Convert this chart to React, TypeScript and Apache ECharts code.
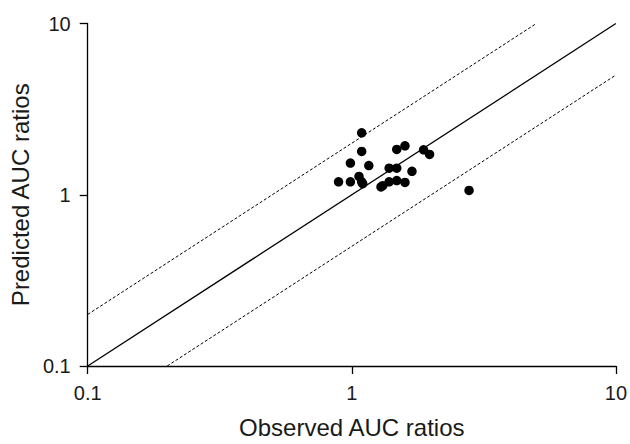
import React, { useEffect, useRef } from "react";
import * as echarts from "echarts";

const observed = [1.09, 1.09, 0.988, 1.16, 0.891, 0.988, 1.065, 1.09, 1.10, 1.29, 1.31, 1.385, 1.385, 1.48, 1.48, 1.59, 1.48, 1.59, 1.69, 1.87, 1.97, 2.78];
const predicted = [2.30, 1.79, 1.53, 1.48, 1.19, 1.19, 1.28, 1.19, 1.16, 1.11, 1.13, 1.19, 1.43, 1.43, 1.21, 1.18, 1.84, 1.93, 1.37, 1.83, 1.72, 1.06];
const unityLine = [[0.1, 0.1], [10, 10]];
const upperLine = [[0.1, 0.2], [5, 10]];
const lowerLine = [[0.2, 0.1], [10, 5]];
const tickLabels = ["0.1", "1", "10"];

const FONT = "'Liberation Sans', Arial, Helvetica, sans-serif";

export default function App() {
  const ref = useRef<HTMLDivElement>(null);
  useEffect(() => {
    if (!ref.current) return;
    const chart = echarts.init(ref.current, undefined, { renderer: "svg" });
    const axisCommon = {
      type: "log" as const,
      logBase: 10,
      min: 0.1,
      max: 10,
      splitLine: { show: false },
      minorTick: { show: false },
      axisLine: { show: true, onZero: false, lineStyle: { color: "#000", width: 1.3 } },
      axisTick: { show: true, length: 8, lineStyle: { color: "#000", width: 1.3 } },
      nameLocation: "middle" as const,
      nameTextStyle: { color: "#1a1a1a", fontSize: 24, fontFamily: FONT },
    };
    const labelCommon = {
      color: "#1a1a1a",
      fontSize: 20,
      fontFamily: FONT,
      margin: 17,
      formatter: (v: number) => {
        const s = String(Math.round(v * 10) / 10);
        return tickLabels.includes(s) ? s : "";
      },
    };
    chart.setOption({
      animation: false,
      backgroundColor: "#fff",
      grid: { left: 81, right: 11.5, top: 23.5, bottom: 71.5, containLabel: false },
      xAxis: { ...axisCommon, axisLabel: labelCommon, name: "Observed AUC ratios", nameGap: 49 },
      yAxis: { ...axisCommon, axisLabel: labelCommon, name: "Predicted AUC ratios", nameGap: 46 },
      series: [
        {
          type: "line",
          data: unityLine,
          symbol: "none",
          lineStyle: { color: "#000", width: 1.3 },
          silent: true,
        },
        {
          type: "line",
          data: upperLine,
          symbol: "none",
          lineStyle: { color: "#000", width: 1, type: [3, 2] },
          silent: true,
        },
        {
          type: "line",
          data: lowerLine,
          symbol: "none",
          lineStyle: { color: "#000", width: 1, type: [3, 2] },
          silent: true,
        },
        {
          type: "scatter",
          data: observed.map((x, i) => [x, predicted[i]]),
          symbol: "circle",
          symbolSize: 9.5,
          itemStyle: { color: "#000", opacity: 1 },
        },
      ],
    });
    return () => chart.dispose();
  }, []);
  return <div ref={ref} style={{ width: 630, height: 444, position: "absolute", left: 0, top: 0 }} />;
}
